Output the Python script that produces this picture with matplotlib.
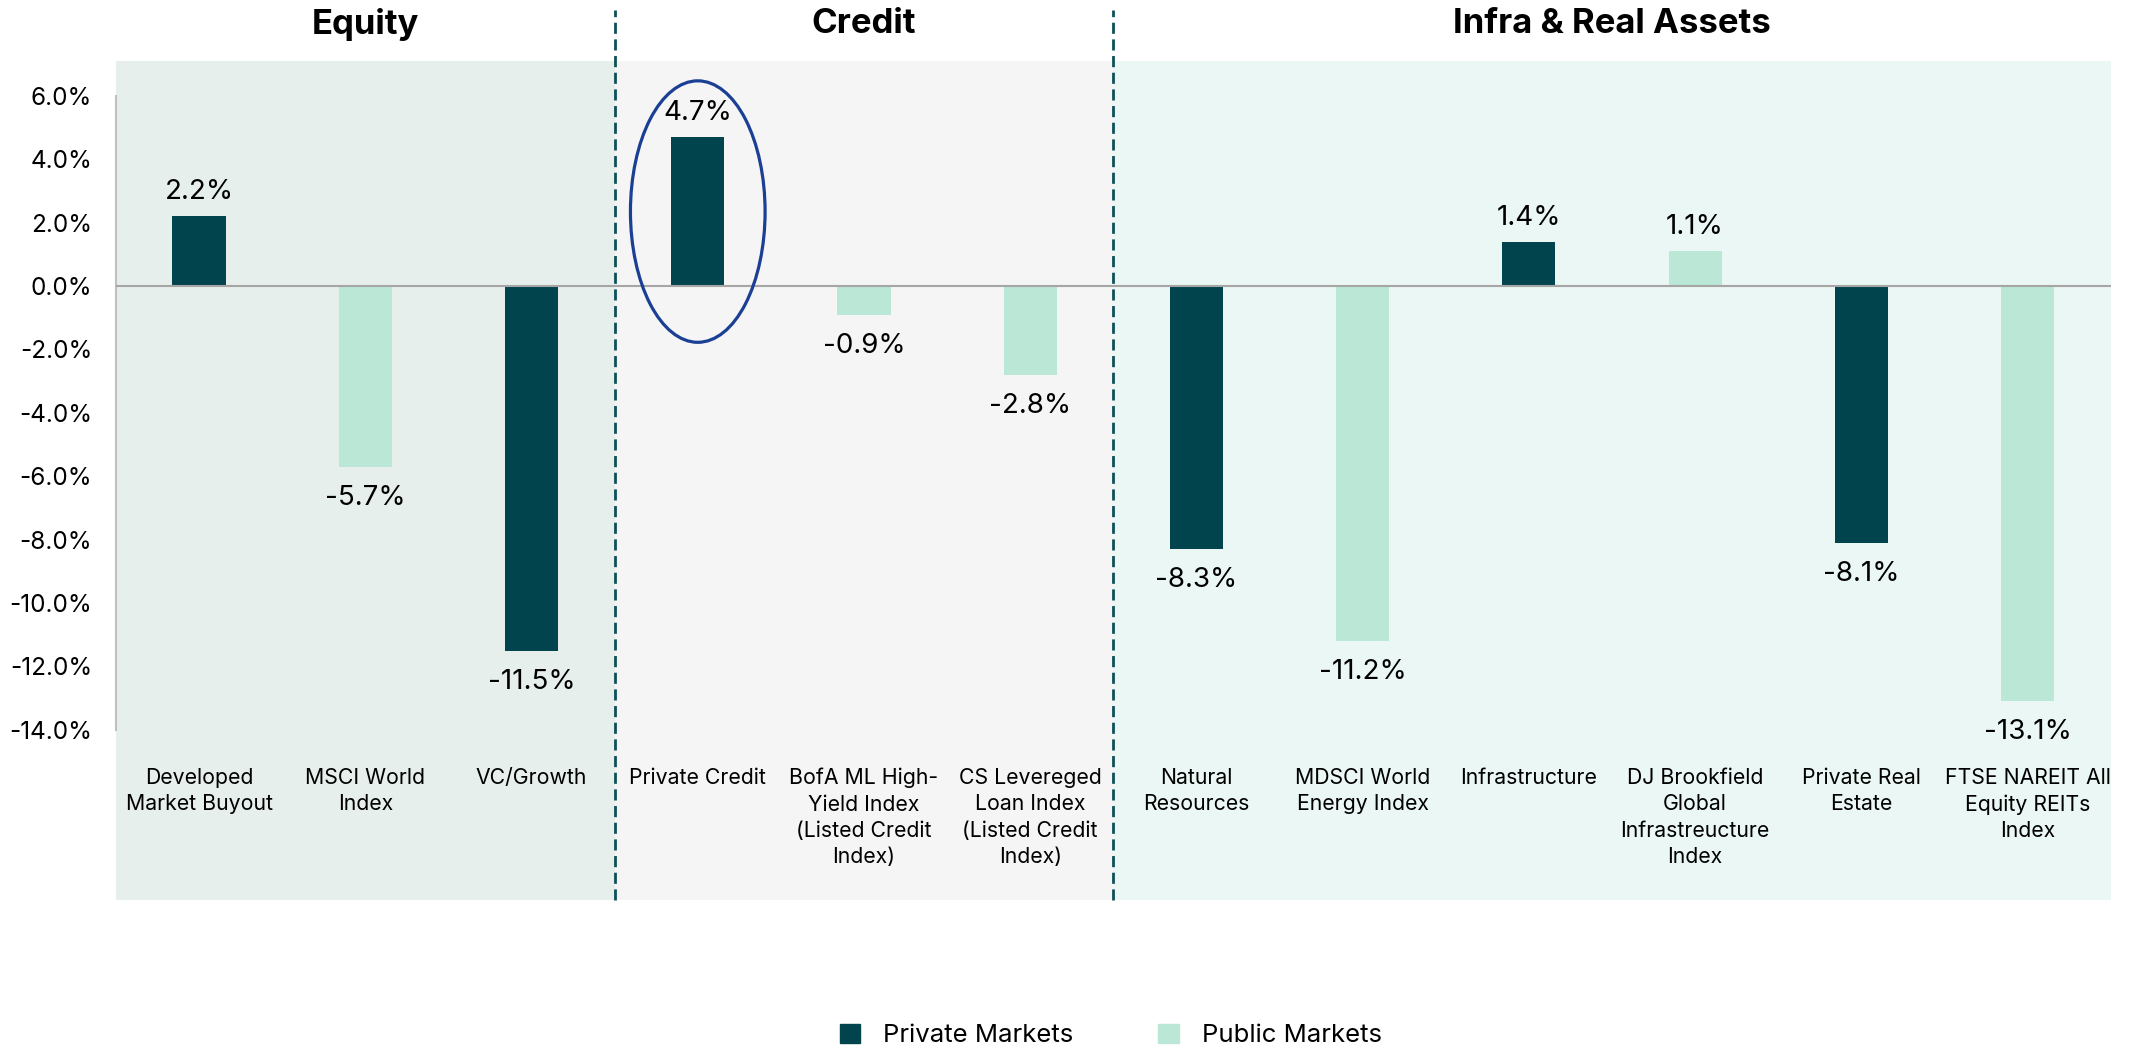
import matplotlib.pyplot as plt
import matplotlib.transforms as mtransforms
from matplotlib.patches import Ellipse, Patch

plt.rcParams['font.family'] = ['Inter', 'DejaVu Sans']

# data
categories = ["Developed\nMarket Buyout", "MSCI World\nIndex", "VC/Growth",
              "Private Credit", "BofA ML High-\nYield Index\n(Listed Credit\nIndex)",
              "CS Levereged\nLoan Index\n(Listed Credit\nIndex)",
              "Natural\nResources", "MDSCI World\nEnergy Index", "Infrastructure",
              "DJ Brookfield\nGlobal\nInfrastreucture\nIndex", "Private Real\nEstate",
              "FTSE NAREIT All\nEquity REITs\nIndex"]
values = [2.2, -5.7, -11.5, 4.7, -0.9, -2.8, -8.3, -11.2, 1.4, 1.1, -8.1, -13.1]
market = ["Private", "Public", "Private", "Private", "Public", "Public",
          "Private", "Public", "Private", "Public", "Private", "Public"]
groups = ["Equity", "Credit", "Infra & Real Assets"]
group_spans = [(-0.5, 2.5), (2.5, 5.5), (5.5, 11.5)]
yticks = [-14, -12, -10, -8, -6, -4, -2, 0, 2, 4, 6]

dark = "#02444E"
light = "#BAE7D6"
bg_colors = ["#E7EFED", "#F5F5F5", "#EBF7F4"]

fig = plt.figure(figsize=(21.32, 10.45), dpi=100)
ax = fig.add_axes([0.0544, 0.1388, 0.9356, 0.8028])
ax.set_xlim(-0.5, 11.5)
ax.set_ylim(-19.37, 7.1)

# group backgrounds and titles
title_tr = mtransforms.blended_transform_factory(ax.transData, fig.transFigure)
for (a, b), c, g in zip(group_spans, bg_colors, groups):
    ax.axvspan(a, b, color=c, zorder=0, lw=0)
    ax.text((a + b) / 2, 0.9766, g, transform=title_tr,
            ha='center', va='center', fontsize=25, fontweight='bold')

# dividers
for a, b in group_spans[1:]:
    ax.plot([a, a], [-19.37, 8.7], color="#0E4F58", lw=2, ls=(0, (4, 2)),
            clip_on=False, zorder=1)

x = list(range(len(categories)))
colors = [dark if m == "Private" else light for m in market]
ax.bar(x, values, width=0.32, color=colors, zorder=2)
ax.axhline(0, color="#A6A6A6", lw=1.5, zorder=3)

for xi, v in zip(x, values):
    if v >= 0:
        ax.annotate(f"{v:.1f}%", (xi, v), xytext=(0, 8), textcoords='offset points',
                    ha='center', va='bottom', fontsize=20)
    else:
        ax.annotate(f"{v:.1f}%", (xi, v), xytext=(0, -13), textcoords='offset points',
                    ha='center', va='top', fontsize=20)

for xi, lab in zip(x, categories):
    ax.text(xi, -15.2, lab, ha='center', va='top', fontsize=15.3, linespacing=1.4)

# highlight private credit
ax.add_patch(Ellipse((3, 2.35), 0.81, 8.25, fill=False, ec="#1B3F95", lw=2.3, zorder=4))

ax.set_yticks(yticks)
ax.set_yticklabels([f"{t:.1f}%" for t in yticks], fontsize=17.5)
ax.tick_params(axis='y', length=0, pad=17)
ax.set_xticks([])
for s in ['top', 'right', 'bottom']:
    ax.spines[s].set_visible(False)
ax.spines['left'].set_bounds(-14, 6)
ax.spines['left'].set_color("#BFBFBF")
ax.spines['left'].set_linewidth(1.5)

handles = [Patch(color=dark, label="Private Markets"), Patch(color=light, label="Public Markets")]
fig.legend(handles=handles, loc='center', bbox_to_anchor=(0.521, 0.009), ncol=2,
           frameon=False, fontsize=18.5, handlelength=0.8, handleheight=0.8,
           columnspacing=3.3, handletextpad=0.9)

fig.savefig("out.png", dpi=100)
